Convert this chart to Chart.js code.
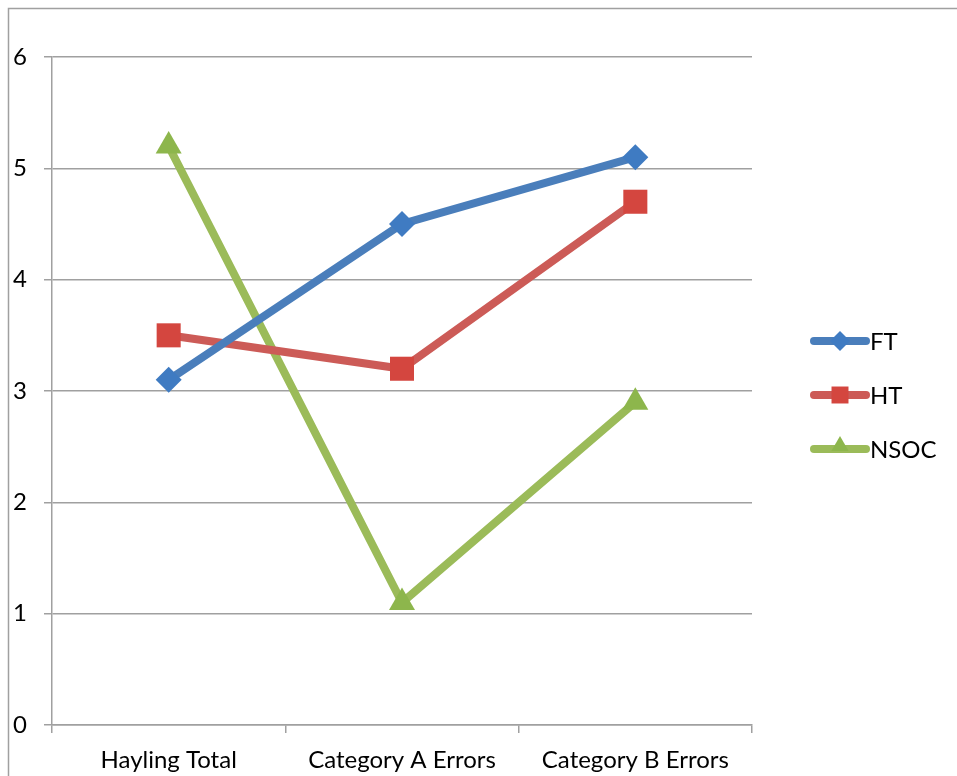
<!DOCTYPE html>
<html>
<head>
<meta charset="utf-8">
<script src="https://cdn.jsdelivr.net/npm/chart.js@4"></script>
<style>
  html, body { margin: 0; padding: 0; background: #fff; }
  #wrap { width: 957px; height: 776px; position: relative; }
</style>
</head>
<body>
<div id="wrap"><canvas id="grafico"></canvas></div>
<script>
const categorias = ['Hayling Total', 'Category A Errors', 'Category B Errors'];
const valoresFT = [3.1, 4.5, 5.1];
const valoresHT = [3.5, 3.2, 4.7];
const valoresNSOC = [5.2, 1.1, 2.9];
const ticksY = [0, 1, 2, 3, 4, 5, 6];

const fonte = 'Lato, "Liberation Sans", sans-serif';

// moldura externa + legenda desenhada à mão (linha com marcador)
const extras = {
    id: 'extras',
    beforeDraw(chart) {
        const ctx = chart.ctx;
        ctx.save();
        ctx.strokeStyle = '#a0a0a0';
        ctx.lineWidth = 1.5;
        ctx.beginPath();
        ctx.moveTo(8.5, 776);
        ctx.lineTo(8.5, 8.5);
        ctx.lineTo(957, 8.5);
        ctx.stroke();
        ctx.restore();
    },
    afterDraw(chart) {
        const ctx = chart.ctx;
        ctx.save();
        chart.data.datasets.forEach((ds, i) => {
            const y = 341 + i * 54;
            ctx.strokeStyle = ds.borderColor;
            ctx.lineWidth = 8;
            ctx.lineCap = 'round';
            ctx.beginPath();
            ctx.moveTo(814, y);
            ctx.lineTo(866, y);
            ctx.stroke();
            ctx.fillStyle = ds.pointBackgroundColor;
            const r = ds.pointStyle === 'rect' ? 12 : 10;
            Chart.helpers.drawPoint(ctx, {
                pointStyle: ds.pointStyle,
                rotation: 0,
                radius: r,
                borderWidth: 0
            }, 840, y - (ds.pointStyle === 'triangle' ? 3 : 0));
            ctx.fillStyle = '#000';
            ctx.font = '24px ' + fonte;
            ctx.textBaseline = 'middle';
            ctx.fillText(ds.label, 870, y + 1);
        });
        ctx.restore();
    }
};

new Chart(document.getElementById('grafico'), {
    type: 'line',
    data: {
        labels: categorias,
        datasets: [{
            label: 'FT',
            data: valoresFT,
            borderColor: '#4a7ebb',
            pointBackgroundColor: '#3f7bc2',
            pointBorderWidth: 0,
            pointStyle: 'rectRot',
            pointRadius: 13,
            borderWidth: 8
        }, {
            label: 'HT',
            data: valoresHT,
            borderColor: '#cc5b57',
            pointBackgroundColor: '#d4463f',
            pointBorderWidth: 0,
            pointStyle: 'rect',
            pointRadius: 17,
            borderWidth: 8
        }, {
            label: 'NSOC',
            data: valoresNSOC,
            borderColor: '#9bbb59',
            pointBackgroundColor: '#8db64c',
            pointBorderWidth: 0,
            pointStyle: 'triangle',
            pointRadius: 15,
            borderWidth: 8
        }]
    },
    options: {
        responsive: true,
        maintainAspectRatio: false,
        animation: false,
        events: [],
        layout: { padding: { left: 0, top: 57, right: 205, bottom: 0 } },
        plugins: { legend: { display: false }, tooltip: { enabled: false } },
        elements: { line: { tension: 0 }, point: { borderWidth: 0 } },
        scales: {
            x: {
                offset: true,
                grid: { drawOnChartArea: false, drawTicks: true, tickLength: 8, color: '#a0a0a0', lineWidth: 1.5, offset: true },
                border: { color: '#a0a0a0', width: 1.5 },
                ticks: { color: '#000', font: { family: fonte, size: 24 }, padding: 13, maxRotation: 0 },
                afterFit(scale) { scale.height = 51; }
            },
            y: {
                min: 0,
                max: 6,
                afterBuildTicks(scale) { scale.ticks = ticksY.map(v => ({ value: v })); },
                grid: { color: '#a0a0a0', lineWidth: 1.5, tickLength: 8 },
                border: { color: '#a0a0a0', width: 1.5 },
                ticks: { color: '#000', font: { family: fonte, size: 24 }, padding: 17 },
                afterFit(scale) { scale.width = 52; }
            }
        }
    },
    plugins: [extras]
});
</script>
</body>
</html>
